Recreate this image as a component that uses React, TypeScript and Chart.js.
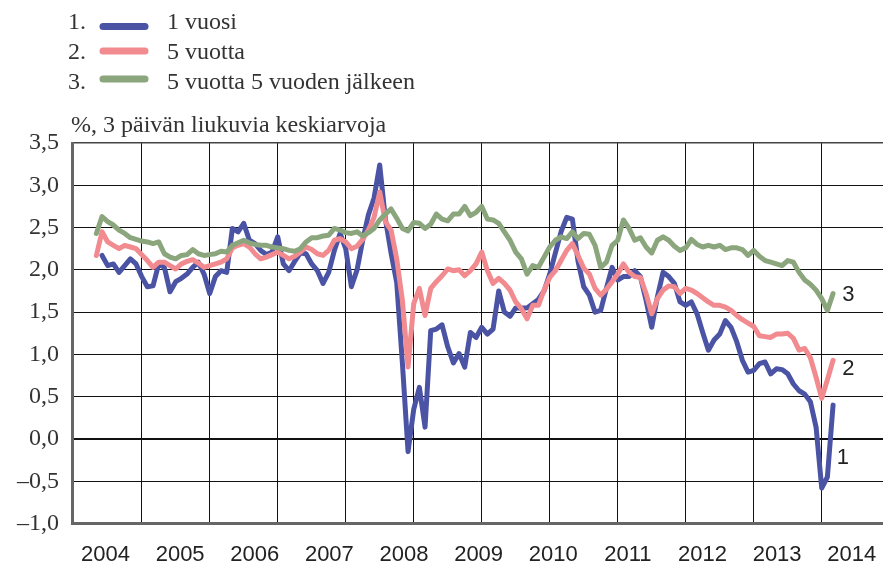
import React, { useEffect, useRef } from 'react';
import { Chart, registerables } from 'chart.js';

Chart.register(...registerables);

// ---- DATA ----
// Monthly observations, first one = May 2004
const START_YEAR = 2004;
const START_MONTH = 5;

const SERIES_NAMES = ['1 vuosi', '5 vuotta', '5 vuotta 5 vuoden jälkeen'];
const LEGEND_NUMBERS = ['1.', '2.', '3.'];
const Y_TITLE = '%, 3 päivän liukuvia keskiarvoja';

// 1 vuosi
const S1_1Y: (number | null)[] = [
  null, 2.17, 2.05, 2.07, 1.97, 2.05, 2.13, 2.07, 1.92, 1.80,
  1.81, 2.07, 2.03, 1.74, 1.86, 1.90, 1.95, 2.03, 2.09, 1.95,
  1.72, 1.92, 1.99, 1.97, 2.49, 2.45, 2.55, 2.35, 2.31, 2.23,
  2.18, 2.21, 2.39, 2.07, 1.99, 2.10, 2.20, 2.19, 2.07, 1.99,
  1.84, 1.97, 2.23, 2.43, 2.25, 1.80, 2.00, 2.35, 2.65, 2.85,
  3.24, 2.60, 2.20, 1.85, 0.90, -0.15, 0.35, 0.61, 0.14, 1.28,
  1.30, 1.35, 1.09, 0.90, 1.01, 0.85, 1.26, 1.20, 1.32, 1.24,
  1.30, 1.75, 1.50, 1.45, 1.55, 1.55, 1.55, 1.60, 1.65, 1.75,
  1.95, 2.20, 2.45, 2.62, 2.60, 2.10, 1.80, 1.70, 1.50, 1.52,
  1.78, 2.03, 1.88, 1.92, 1.92, 1.99, 1.92, 1.64, 1.32, 1.68,
  1.97, 1.92, 1.84, 1.62, 1.58, 1.62, 1.48, 1.26, 1.05, 1.17,
  1.24, 1.40, 1.32, 1.15, 0.93, 0.79, 0.81, 0.89, 0.91, 0.77,
  0.83, 0.82, 0.77, 0.65, 0.57, 0.53, 0.44, 0.14, -0.58, -0.45,
  0.40,
];

// 5 vuotta
const S2_5Y: number[] = [
  2.17, 2.45, 2.33, 2.29, 2.25, 2.29, 2.27, 2.25, 2.18, 2.11,
  2.03, 2.09, 2.09, 2.05, 2.01, 2.07, 2.10, 2.12, 2.08, 2.03,
  2.05, 2.07, 2.09, 2.13, 2.26, 2.29, 2.31, 2.27, 2.19, 2.13,
  2.15, 2.18, 2.21, 2.17, 2.13, 2.16, 2.21, 2.27, 2.24, 2.19,
  2.17, 2.23, 2.35, 2.37, 2.33, 2.25, 2.28, 2.36, 2.47, 2.62,
  2.92, 2.57, 2.47, 2.13, 1.64, 0.85, 1.60, 1.78, 1.46, 1.78,
  1.86, 1.93, 2.01, 1.99, 2.00, 1.93, 1.99, 2.07, 2.21, 1.99,
  1.84, 1.90, 1.84, 1.76, 1.62, 1.54, 1.42, 1.58, 1.58, 1.76,
  1.91, 1.99, 2.11, 2.23, 2.31, 2.17, 2.02, 1.95, 1.78, 1.70,
  1.77, 1.86, 1.95, 2.07, 1.97, 1.92, 1.91, 1.72, 1.48, 1.66,
  1.76, 1.81, 1.80, 1.72, 1.78, 1.76, 1.72, 1.67, 1.62, 1.58,
  1.58, 1.56, 1.52, 1.46, 1.41, 1.37, 1.33, 1.22, 1.21, 1.20,
  1.24, 1.24, 1.25, 1.19, 1.05, 1.07, 0.96, 0.73, 0.48, 0.70,
  0.93,
];

// 5 vuotta 5 vuoden jälkeen
const S3_5Y5Y: number[] = [
  2.43, 2.63, 2.57, 2.53, 2.47, 2.43, 2.38, 2.36, 2.34, 2.33,
  2.31, 2.33, 2.19, 2.15, 2.13, 2.17, 2.18, 2.24, 2.19, 2.17,
  2.18, 2.19, 2.22, 2.21, 2.29, 2.32, 2.35, 2.32, 2.30, 2.29,
  2.29, 2.27, 2.26, 2.25, 2.23, 2.22, 2.25, 2.33, 2.38, 2.38,
  2.40, 2.41, 2.49, 2.47, 2.44, 2.43, 2.45, 2.40, 2.44, 2.49,
  2.59, 2.66, 2.72, 2.61, 2.49, 2.46, 2.56, 2.55, 2.49, 2.54,
  2.66, 2.60, 2.58, 2.66, 2.66, 2.75, 2.64, 2.68, 2.75, 2.60,
  2.59, 2.55, 2.45, 2.35, 2.21, 2.13, 1.95, 2.05, 2.03, 2.15,
  2.27, 2.35, 2.39, 2.37, 2.45, 2.37, 2.43, 2.42, 2.29, 2.03,
  2.09, 2.29, 2.35, 2.59, 2.49, 2.35, 2.38, 2.27, 2.20, 2.35,
  2.39, 2.35, 2.28, 2.23, 2.26, 2.36, 2.30, 2.27, 2.29, 2.27,
  2.29, 2.24, 2.26, 2.26, 2.24, 2.17, 2.23, 2.16, 2.11, 2.09,
  2.07, 2.05, 2.11, 2.09, 1.97, 1.88, 1.83, 1.76, 1.66, 1.52,
  1.72,
];

const YEAR_LABELS = [2004, 2005, 2006, 2007, 2008, 2009, 2010, 2011, 2012, 2013, 2014];
const GRID_YEARS = [2005, 2006, 2007, 2008, 2009, 2010, 2011, 2012, 2013, 2014, 2015];
const END_LABELS = [
  { text: '1', date: 2015.22, value: -0.22 },
  { text: '2', date: 2015.3, value: 0.83 },
  { text: '3', date: 2015.3, value: 1.7 },
];

// time axis helper (monthly)
const DATES = S2_5Y.map((_, k) => START_YEAR + (START_MONTH - 1 + k) / 12);

// ---- STYLE ----
const COLORS = ['#4b54a4', '#f28b90', '#8ba67c'];
const SERIF = '"Liberation Serif", "Times New Roman", serif';
const SANS = '"Liberation Sans", Arial, sans-serif';

const X_MIN = 2003.975;
const X_MAX = 2015.901;
const X2_MIN = 2003.551;
const X2_MAX = 2014.419;

const fmtY = (v: number) => {
  const s = Math.abs(v).toFixed(1).replace('.', ',');
  return v < -1e-9 ? '\u2013' + s : s;
};

const overlay = {
  id: 'overlay',
  afterDraw(chart: any) {
    const ctx = chart.ctx as CanvasRenderingContext2D;
    ctx.save();
    ctx.fillStyle = '#333';
    ctx.font = `24px ${SERIF}`;
    ctx.textBaseline = 'alphabetic';
    ctx.textAlign = 'left';
    const rows = [
      { base: 28.5, sw: 26.5 },
      { base: 59, sw: 51 },
      { base: 88.5, sw: 79 },
    ];
    SERIES_NAMES.forEach((name, i) => {
      ctx.fillStyle = '#333';
      ctx.fillText(LEGEND_NUMBERS[i], 68, rows[i].base);
      ctx.fillText(name, 167, rows[i].base);
      ctx.strokeStyle = COLORS[i];
      ctx.lineWidth = 7;
      ctx.lineCap = 'round';
      ctx.beginPath();
      ctx.moveTo(103, rows[i].sw);
      ctx.lineTo(145, rows[i].sw);
      ctx.stroke();
    });
    ctx.fillStyle = '#333';
    ctx.fillText(Y_TITLE, 71, 131.5);

    ctx.font = `22px ${SANS}`;
    ctx.fillStyle = '#222';
    ctx.textBaseline = 'middle';
    const xs = chart.scales.x;
    const ys = chart.scales.y;
    END_LABELS.forEach((l) => {
      ctx.fillText(l.text, xs.getPixelForValue(l.date), ys.getPixelForValue(l.value));
    });
    ctx.restore();
  },
};

export default function App() {
  const ref = useRef<HTMLCanvasElement | null>(null);

  useEffect(() => {
    const canvas = ref.current;
    if (!canvas) return;
    const mk = (vals: (number | null)[]) => vals.map((v, i) => ({ x: DATES[i], y: v }));
    const chart = new Chart(canvas, {
      type: 'line',
      data: {
        datasets: [
          { label: SERIES_NAMES[0], data: mk(S1_1Y), borderColor: COLORS[0], backgroundColor: COLORS[0], order: 3 },
          { label: SERIES_NAMES[1], data: mk(S2_5Y), borderColor: COLORS[1], backgroundColor: COLORS[1], order: 2 },
          { label: SERIES_NAMES[2], data: mk(S3_5Y5Y), borderColor: COLORS[2], backgroundColor: COLORS[2], order: 1 },
        ] as any,
      },
      options: {
        animation: false,
        responsive: false,
        devicePixelRatio: 1,
        parsing: false as any,
        layout: { padding: { top: 143, left: 0, right: 0, bottom: 0 } },
        plugins: { legend: { display: false }, tooltip: { enabled: false }, title: { display: false } },
        elements: {
          point: { radius: 0 },
          line: { borderWidth: 5, tension: 0, borderJoinStyle: 'round', borderCapStyle: 'round' },
        },
        scales: {
          x: {
            type: 'linear',
            min: X_MIN,
            max: X_MAX,
            afterBuildTicks: (s: any) => {
              s.ticks = GRID_YEARS.map((v) => ({ value: v }));
            },
            ticks: { display: false },
            grid: { color: '#111', lineWidth: 1, drawTicks: false },
            border: { display: false },
            afterFit: (s: any) => {
              s.height = 0;
              s.paddingLeft = 0;
              s.paddingRight = 0;
            },
          },
          x2: {
            type: 'linear',
            position: 'bottom',
            min: X2_MIN,
            max: X2_MAX,
            afterBuildTicks: (s: any) => {
              s.ticks = YEAR_LABELS.map((v) => ({ value: v }));
            },
            ticks: {
              callback: (v: any) => String(v),
              font: { family: SANS, size: 22 },
              color: '#222',
              padding: 18,
              maxRotation: 0,
              autoSkip: false,
            },
            grid: { display: false, drawTicks: false },
            border: { display: false },
            afterFit: (s: any) => {
              s.height = 44.5;
              s.paddingLeft = 0;
              s.paddingRight = 0;
            },
          },
          y: {
            type: 'linear',
            min: -1,
            max: 3.5,
            ticks: {
              stepSize: 0.5,
              callback: (v: any) => fmtY(Number(v)),
              font: { family: SERIF, size: 24 },
              color: '#333',
              padding: 13,
            },
            grid: {
              drawTicks: false,
              color: (c: any) => {
                const v = c.tick ? c.tick.value : 1;
                if (Math.abs(v + 1) < 1e-6) return '#666';
                if (Math.abs(v - 3.5) < 1e-6) return '#444';
                return '#111';
              },
              lineWidth: (c: any) => {
                const v = c.tick ? c.tick.value : 1;
                if (Math.abs(v + 1) < 1e-6) return 3;
                if (Math.abs(v) < 1e-6) return 2;
                if (Math.abs(v - 3.5) < 1e-6) return 1.5;
                return 1;
              },
            },
            border: { display: true, color: '#666', width: 3 },
            afterFit: (s: any) => {
              s.width = 72;
            },
          },
        } as any,
      },
      plugins: [overlay],
    });
    return () => chart.destroy();
  }, []);

  return (
    <div style={{ position: 'absolute', left: 0, top: 0, width: 883, height: 568, background: '#fff' }}>
      <canvas ref={ref} width={883} height={568} style={{ display: 'block' }} />
    </div>
  );
}
